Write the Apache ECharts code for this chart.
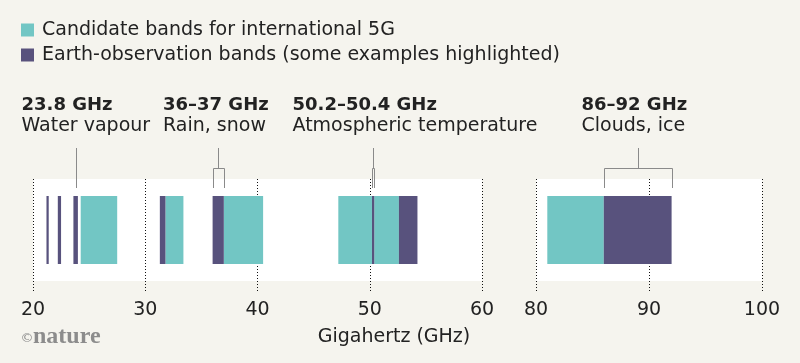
<!DOCTYPE html>
<html>
<head>
<meta charset="utf-8">
<style>
html,body{margin:0;padding:0;background:#f5f4ee;}
#c{width:800px;height:363px;}
</style>
<script src="https://cdn.jsdelivr.net/npm/echarts@6.0.0/dist/echarts.min.js"></script>
</head>
<body>
<div id="c"></div>
<script>
// ---- data ----
const seriesNames = ['Candidate bands for international 5G', 'Earth-observation bands (some examples highlighted)'];
const candidateBands = [[24.25, 27.5], [31.8, 33.4], [37, 40.5], [47.2, 50.2], [50.4, 52.6], [81, 86]];
const earthBands = [[21.2, 21.4], [22.21, 22.5], [23.6, 24], [31.3, 31.8], [36, 37], [50.2, 50.4], [52.6, 54.25], [86, 92]];
const leftTicks = [20, 30, 40, 50, 60];
const rightTicks = [80, 90, 100];
const calloutRanges = [[23.8, 23.8], [36, 37], [50.2, 50.4], [86, 92]];
const calloutTitles = ['23.8 GHz', '36–37 GHz', '50.2–50.4 GHz', '86–92 GHz'];
const calloutSubtitles = ['Water vapour', 'Rain, snow', 'Atmospheric temperature', 'Clouds, ice'];
const axisTitle = 'Gigahertz (GHz)';
const creditMark = '©';
const creditName = 'nature';

// ---- styles / layout ----
const FONT = '"DejaVu Sans"';
const TEAL = '#72c6c4';
const PURPLE = '#58527d';
const INK = '#222';
const BG = '#f5f4ee';
const calloutTextX = [21.5, 163, 292.5, 581.5];

const ranges = [leftTicks, rightTicks];
function inRange(r, ticks) { return r[0] >= ticks[0] && r[1] <= ticks[ticks.length - 1]; }

function renderBand(params, api) {
  const s = api.coord([api.value(0), 0]);
  const e = api.coord([api.value(1), 0]);
  const h = api.size([0, 1])[1] * 0.667;
  return {
    type: 'rect',
    shape: { x: s[0], y: s[1] - h / 2, width: e[0] - s[0], height: h },
    style: { fill: api.visual('color') }
  };
}
function px(x) { return Math.round(x) + 0.5; }
function renderCallout(params, api) {
  const a = api.value(0), b = api.value(1);
  const s = api.coord([a, 0]);
  const e = api.coord([b, 0]);
  const m = api.coord([(a + b) / 2, 0]);
  const top = m[1] - api.size([0, 1])[1] / 2;
  const st = { stroke: '#8a8a8a', lineWidth: 1 };
  const kids = [];
  if (a === b) {
    kids.push({ type: 'line', shape: { x1: px(m[0]), y1: top - 31, x2: px(m[0]), y2: top + 9 }, style: st });
  } else {
    const xs = px(s[0]), xe = Math.max(px(e[0]), xs + 2);
    const xm = px(m[0]);
    kids.push({ type: 'line', shape: { x1: xm, y1: top - 31, x2: xm, y2: top - 10.5 }, style: st });
    kids.push({ type: 'line', shape: { x1: xs, y1: top - 10.5, x2: xe, y2: top - 10.5 }, style: st });
    kids.push({ type: 'line', shape: { x1: xs, y1: top - 10.5, x2: xs, y2: top + 9 }, style: st });
    kids.push({ type: 'line', shape: { x1: xe, y1: top - 10.5, x2: xe, y2: top + 9 }, style: st });
  }
  return { type: 'group', children: kids };
}

const grids = [
  { left: 33, width: 449, top: 179, height: 102, show: true, backgroundColor: '#fff', borderWidth: 0 },
  { left: 536, width: 226, top: 179, height: 102, show: true, backgroundColor: '#fff', borderWidth: 0 }
];
const xAxes = ranges.map((t, i) => ({
  gridIndex: i, type: 'value',
  min: t[0], max: t[t.length - 1], interval: t[1] - t[0],
  axisLine: { show: false },
  axisTick: { show: true, length: 10, lineStyle: { color: '#111', type: [1, 2] } },
  splitLine: { show: true, lineStyle: { color: '#111', type: [1, 2] } },
  axisLabel: { margin: 20, fontSize: 19, fontFamily: FONT, color: INK }
}));
const yAxes = ranges.map((t, i) => ({ gridIndex: i, type: 'category', data: ['bands'], show: false }));

const series = [];
ranges.forEach((t, i) => {
  series.push({
    name: seriesNames[0], type: 'custom', xAxisIndex: i, yAxisIndex: i,
    itemStyle: { color: TEAL }, renderItem: renderBand,
    encode: { x: [0, 1], y: 2 },
    data: candidateBands.filter(r => inRange(r, t)).map(r => [r[0], r[1], 0])
  });
  series.push({
    name: seriesNames[1], type: 'custom', xAxisIndex: i, yAxisIndex: i,
    itemStyle: { color: PURPLE }, renderItem: renderBand,
    encode: { x: [0, 1], y: 2 },
    data: earthBands.filter(r => inRange(r, t)).map(r => [r[0], r[1], 0])
  });
  series.push({
    name: 'callouts', type: 'custom', xAxisIndex: i, yAxisIndex: i, silent: true,
    renderItem: renderCallout, encode: { x: [0, 1], y: 2 },
    data: calloutRanges.filter(r => inRange(r, t)).map(r => [r[0], r[1], 0])
  });
});

const graphics = [];
calloutTitles.forEach((t, i) => {
  graphics.push({ type: 'text', x: calloutTextX[i], y: 96.5,
    style: { text: t, font: 'bold 18px ' + FONT, fill: INK, align: 'left', verticalAlign: 'top' } });
  graphics.push({ type: 'text', x: calloutTextX[i], y: 117,
    style: { text: calloutSubtitles[i], font: '19px ' + FONT, fill: INK, align: 'left', verticalAlign: 'top' } });
});
graphics.push({ type: 'text', x: 394, y: 328,
  style: { text: axisTitle, font: '19px ' + FONT, fill: INK, align: 'center', verticalAlign: 'top' } });
graphics.push({ type: 'text', x: 20.5, y: 332,
  style: { text: creditMark, font: '13px ' + FONT, fill: '#8c8c8c', align: 'left', verticalAlign: 'top' } });
graphics.push({ type: 'text', x: 33, y: 325,
  style: { text: creditName, font: 'bold 24px "Liberation Serif"', fill: '#8c8c8c', align: 'left', verticalAlign: 'top' } });

const chart = echarts.init(document.getElementById('c'), null, { renderer: 'canvas' });
chart.setOption({
  backgroundColor: BG,
  animation: false,
  legend: {
    data: seriesNames.map(n => ({ name: n, icon: 'rect' })),
    orient: 'vertical', left: 21, top: 20.5, padding: 0,
    itemWidth: 13, itemHeight: 13, itemGap: 6,
    selectedMode: false,
    textStyle: { fontFamily: FONT, fontSize: 19, color: INK, padding: [0, 0, 0, 3] }
  },
  grid: grids,
  xAxis: xAxes,
  yAxis: yAxes,
  series: series,
  graphic: graphics
});
</script>
</body>
</html>
